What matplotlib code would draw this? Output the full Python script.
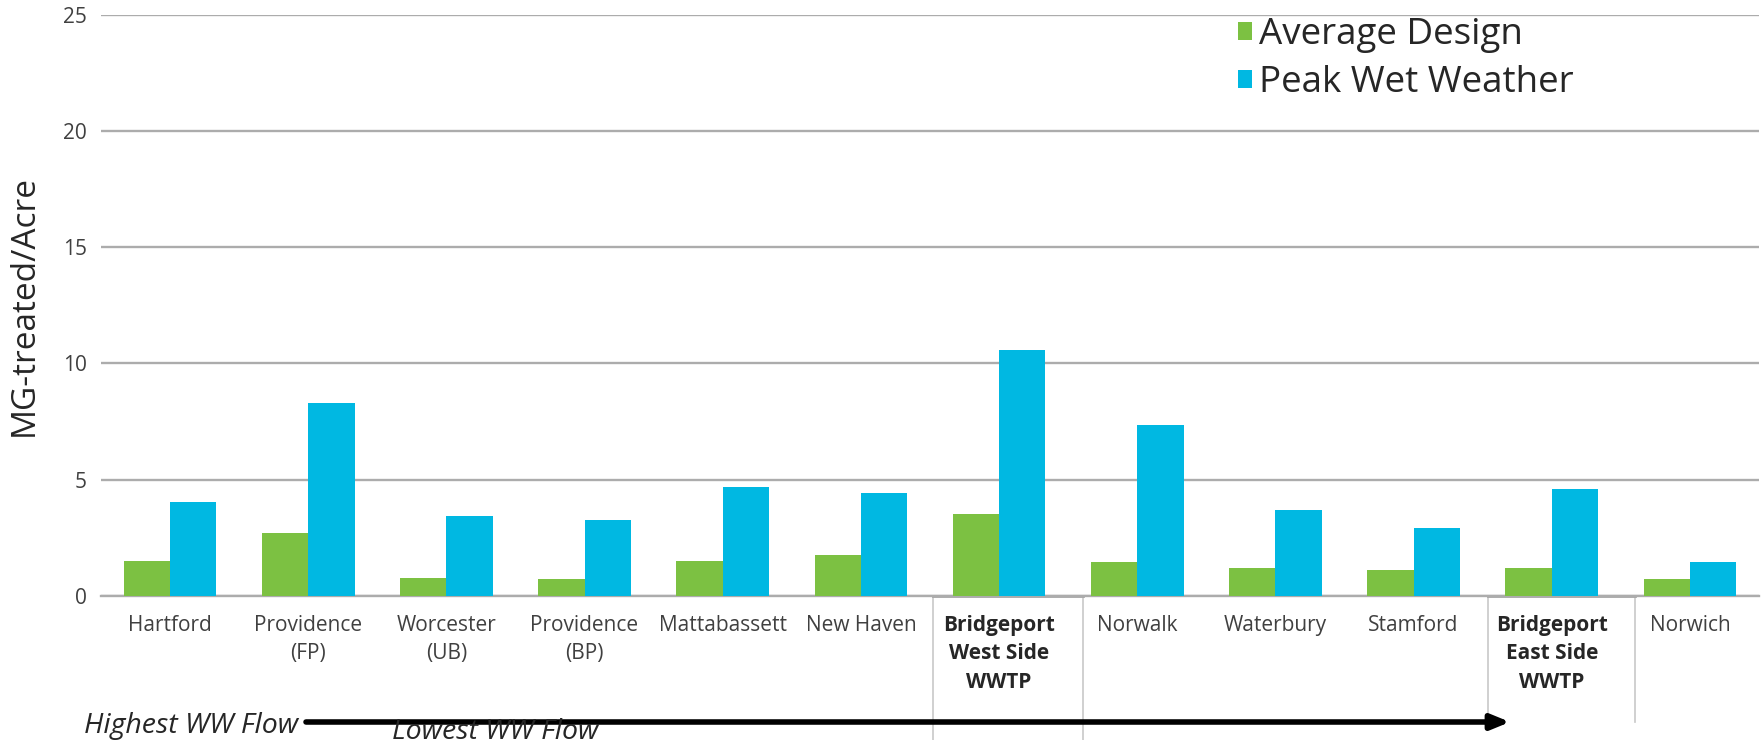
import matplotlib
matplotlib.use("Agg")
import matplotlib.pyplot as plt
import matplotlib.transforms as mtransforms
import numpy as np

# Plant list, ordered from highest to lowest wet weather flow
plants = ["Hartford", "Providence\n(FP)", "Worcester\n(UB)", "Providence\n(BP)",
          "Mattabassett", "New Haven", "Bridgeport\nWest Side\nWWTP", "Norwalk",
          "Waterbury", "Stamford", "Bridgeport\nEast Side\nWWTP", "Norwich"]
highlighted = ["Bridgeport\nWest Side\nWWTP", "Bridgeport\nEast Side\nWWTP"]

# MG treated per acre
average_design = [1.49, 2.71, 0.77, 0.70, 1.49, 1.75, 3.53, 1.47, 1.20, 1.10, 1.20, 0.72]
peak_wet_weather = [4.05, 8.28, 3.43, 3.26, 4.69, 4.43, 10.56, 7.33, 3.69, 2.90, 4.58, 1.46]

y_ticks = [0, 5, 10, 15, 20, 25]

GREEN = "#7cc142"
BLUE = "#00b8e2"
GRID = "#acacac"

plt.rcParams["font.family"] = ["Open Sans", "DejaVu Sans"]

W, H = 1765, 740
fig = plt.figure(figsize=(W / 100, H / 100), dpi=100)
ax = fig.add_axes([0.0572, 0.195, 0.9394, 0.785])

x = np.arange(len(plants))
w = 0.335
ax.bar(x - w / 2, average_design, w, color=GREEN, label="Average Design", zorder=3)
ax.bar(x + w / 2, peak_wet_weather, w, color=BLUE, label="Peak Wet Weather", zorder=3)

ax.set_xlim(-0.5, len(plants) - 0.5)
ax.set_ylim(0, 25)
ax.set_yticks(y_ticks)
ax.yaxis.grid(True, color=GRID, linewidth=1.7, zorder=0)
ax.set_axisbelow(True)
for s in ["top", "right", "left"]:
    ax.spines[s].set_visible(False)
ax.spines["bottom"].set_color(GRID)
ax.spines["bottom"].set_linewidth(1.7)

ax.tick_params(axis="y", length=0, pad=10, labelsize=15, labelcolor="#404040")
ax.tick_params(axis="x", length=0, pad=14, labelsize=15, labelcolor="#404040")
ax.set_xticks(x)
ax.set_xticklabels(plants, linespacing=1.45)
for lbl in ax.get_xticklabels():
    if lbl.get_text() in highlighted:
        lbl.set_fontweight("bold")
        lbl.set_color("#262626")

ax.set_ylabel("MG-treated/Acre", fontsize=24, color="#262626")
ax.yaxis.set_label_coords(-0.0365, 0.5)

# boxes around the highlighted plant labels
trans = mtransforms.blended_transform_factory(ax.transData, fig.transFigure)
box_edges = [(5.52, 6.61, 0.0), (9.54, 10.60, 0.025)]
for left, right, bottom in box_edges:
    for xe in (left, right):
        ax.plot([xe, xe], [0.195, bottom], color="#c8c8c8", linewidth=1.2,
                transform=trans, clip_on=False)
    ax.plot([left, right], [0.195, 0.195], color="#a6a6a6", linewidth=2,
            transform=trans, clip_on=False)

leg = ax.legend(loc="upper left", frameon=False, fontsize=26.5,
                handlelength=0.38, handleheight=0.38, handletextpad=0.18,
                labelspacing=0.32, borderaxespad=0, borderpad=0)
leg.set_bbox_to_anchor((1238 / W, 1 - 17 / H), transform=fig.transFigure)
for t in leg.get_texts():
    t.set_color("#262626")

# flow direction arrow along the bottom
arrow_y = 18
fig.text(298 / W, 17 / H, "Highest WW Flow", fontsize=20.5, style="italic",
         color="#262626", va="center_baseline", ha="right")
fig.text(392 / W, 1 / H, "Lowest WW Flow", fontsize=20.5, style="italic",
         color="#262626", va="baseline", ha="left", zorder=1)
ax.annotate("", xy=(1510, arrow_y), xycoords="figure pixels",
            xytext=(306, arrow_y), textcoords="figure pixels",
            arrowprops=dict(arrowstyle="-|>,head_length=1.1,head_width=0.45",
                            color="black", lw=4, shrinkA=0, shrinkB=0),
            zorder=5, annotation_clip=False)

fig.savefig("out.png", dpi=100)
